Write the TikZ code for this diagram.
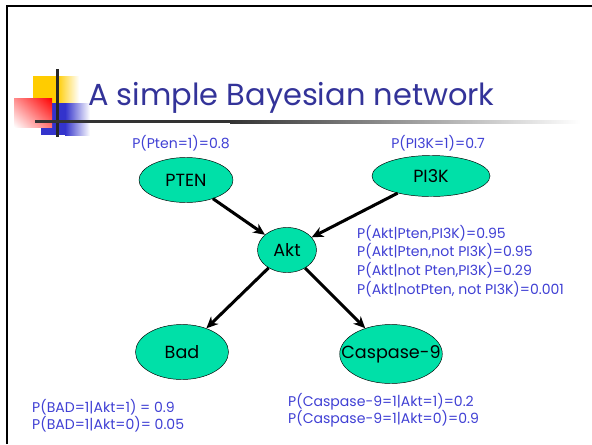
\documentclass[tikz,border=0pt]{standalone}
\usepackage{fontspec}
\setmainfont{Poppins}
\usetikzlibrary{positioning, shapes.geometric, arrows.meta, shadings}
\definecolor{titleblue}{RGB}{51,51,153}
\definecolor{probblue}{RGB}{64,64,212}
\definecolor{nodegreen}{RGB}{0,224,168}
\definecolor{logoyellow}{RGB}{255,204,0}
\definecolor{logoblue}{RGB}{51,51,204}

\begin{document}
\begin{tikzpicture}[x=0.03cm, y=-0.03cm, % one unit = one pixel, y down
  gene/.style={ellipse, draw=black, thin, fill=nodegreen, inner sep=0pt, font=\fontsize{15}{18}\selectfont},
  prob/.style={color=probblue, font=\fontsize{12}{16}\selectfont, align=left, inner sep=0pt},
  link/.style={-{Stealth[length=10pt,width=9pt]}, line width=2.6pt}]

\useasboundingbox (0,0) rectangle (592,444);

% slide frame
\draw[line width=1.5pt] (7,444) -- (7,6) -- (592,6);

% logo squares
\fill[logoyellow] (33,76) rectangle (57,103);
\shade[left color=logoyellow, right color=white] (57,76) rectangle (79,103);
\fill[logoblue] (41,103) rectangle (65,135);
\shade[left color=logoblue, right color=white] (65,103) rectangle (90,135);
\shade[upper left=red!45, upper right=red, lower left=white, lower right=red!55] (14,98) rectangle (52,127);
\fill[black!85] (56,69) rectangle (59,137);
\fill[black!80] (35,120) rectangle (230,123);
\shade[left color=black!80, right color=white] (230,120) rectangle (580,123);

% title
\node[anchor=base west, text=titleblue, font=\fontsize{26}{30}\selectfont, inner sep=0pt] (title) at (88,105) {A simple Bayesian network};

% network
\node[gene, minimum width=2.82cm, minimum height=1.35cm] (pten) at (186,180) {PTEN};
\node[gene, minimum width=3.54cm, minimum height=1.23cm] (pi3k) at (431,176) {PI3K};
\node[gene, minimum width=1.77cm, minimum height=1.35cm] (akt) at (287,250) {Akt};
\node[gene, minimum width=2.79cm, minimum height=1.65cm] (bad) at (182,352) {Bad};
\node[gene, inner xsep=-0.4cm, minimum width=3.00cm, minimum height=1.77cm] (casp) at (391,354) {Caspase-9};

\draw[link] (pten) -- (akt);
\draw[link] (pi3k) -- (akt);
\draw[link] (akt) -- (bad);
\draw[link] (akt) -- (casp);

% probability tables
\node[prob] (pten-p) at (181,143) {P(Pten=1)=0.8};
\node[prob] (pi3k-p) at (438,143) {P(PI3K=1)=0.7};
\node[prob, anchor=west] (akt-p) at (357,261) {P(Akt|Pten,PI3K)=0.95\\P(Akt|Pten,not PI3K)=0.95\\P(Akt|not Pten,PI3K)=0.29\\P(Akt|notPten, not PI3K)=0.001};
\node[prob, anchor=west, font=\fontsize{12}{14.5}\selectfont] (bad-p) at (32,415.5) {P(BAD=1|Akt=1) = 0.9\\P(BAD=1|Akt=0)= 0.05};
\node[prob, anchor=west, font=\fontsize{12}{14.5}\selectfont] (casp-p) at (288,410.5) {P(Caspase-9=1|Akt=1)=0.2\\P(Caspase-9=1|Akt=0)=0.9};

\end{tikzpicture}
\end{document}
